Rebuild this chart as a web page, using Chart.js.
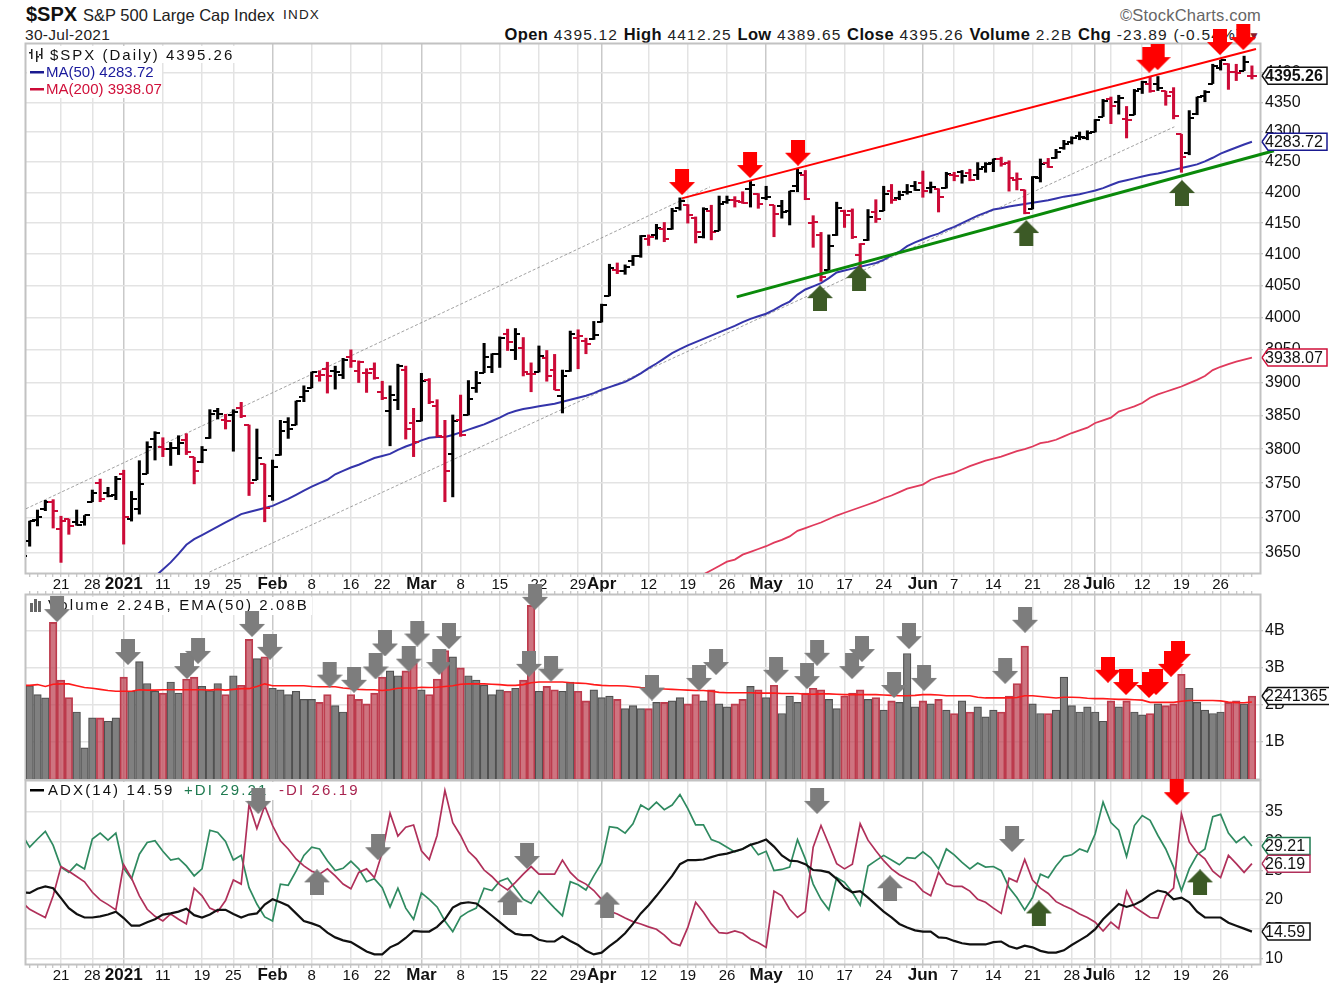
<!DOCTYPE html>
<html>
<head>
<meta charset="utf-8">
<title>$SPX</title>
<script src="https://cdn.jsdelivr.net/npm/chart.js@4"></script>
<style>
  html, body { margin: 0; padding: 0; background: #fff; }
  body { position: relative; width: 1329px; height: 990px; overflow: hidden; font-family: "Liberation Sans", Arial, sans-serif; color: #111; }
  canvas { position: absolute; left: 0; top: 0; }
  .head { position: absolute; white-space: nowrap; line-height: 20px; }
  .stats { right: 68px; top: 24px; font-size: 15.5px; letter-spacing: 1.2px; color: #222; }
  .stats b { font-size: 16.5px; letter-spacing: .4px; color: #111; }
</style>
</head>
<body>
<div class="head" style="left:26px;top:4px;font-size:20px;font-weight:bold">$SPX</div>
<div class="head" style="left:83px;top:5px;font-size:16.5px;color:#222">S&amp;P 500 Large Cap Index</div>
<div class="head" style="left:283px;top:5px;font-size:13.5px;letter-spacing:1.2px;color:#222">INDX</div>
<div class="head" style="left:25px;top:25px;font-size:15.5px;letter-spacing:.3px;color:#222">30-Jul-2021</div>
<div class="head stats"><b>Open</b> 4395.12 <b>High</b> 4412.25 <b>Low</b> 4389.65 <b>Close</b> 4395.26 <b>Volume</b> 2.2B <b>Chg</b> -23.89 (-0.54%) <span style="color:#8b1a2b;font-size:12px">&#9660;</span></div>
<div class="head" style="right:68px;top:5px;font-size:16.5px;letter-spacing:.2px;color:#666">&copy;StockCharts.com</div>
<canvas id="priceChart" width="1329" height="990" style="z-index:1"></canvas>
<canvas id="volumeChart" width="1329" height="990" style="z-index:2"></canvas>
<canvas id="adxChart" width="1329" height="990" style="z-index:3"></canvas>
<script>
// bars run Dec 14 2020 (0) to Jul 30 2021 (157)
const opens = [
  3675,3666,3696,3713,3722, 3684,3698,3693,3694, 3723,3750,3736,3733,
  3764,3698,3712,3764,3815, 3803,3801,3802,3814,3788, 3781,3816,3857,3844, 3851,3862,3836,3755,3778,
  3731,3791,3840,3836,3878, 3892,3910,3920,3917,3911, 3939,3918,3915,3921, 3885,3857,3873,3919,3839,
  3842,3904,3864,3818,3793, 3844,3851,3891,3915,3924, 3943,3974,3949,3953,3913, 3916,3938,3919,3879,3917, 3969,3963,3967,
  3993, 4034,4075,4074,4089,4097, 4125,4130,4141,4140,4174, 4179,4159,4128,4170,4138, 4185,4188,4185,4206,4198,
  4191,4179,4177,4169,4210, 4228,4150,4130,4075,4130, 4170,4170,4098,4122,4168, 4170,4202,4191,4201,4210,
  4216,4207,4206,4207, 4229,4233,4232,4229,4242, 4249,4255,4248,4220,4204, 4173,4224,4249,4256,4274, 4284,4293,4290,
  4300,4326, 4356,4351,4321,4329, 4372,4382,4381,4369,4367, 4296,4265,4331,4361,4382, 4409,4416,4402,4404,4395.12
];
const highs = [
  3697.6,3695,3711,3725,3726, 3702,3698,3711,3703, 3740,3756,3744,3760,
  3769,3738,3783,3811,3826, 3817,3810,3820,3823,3788, 3804,3859,3861,3852, 3859,3870,3836,3830,3778,
  3784,3843,3847,3872,3895, 3916,3918,3931,3925,3937, 3950,3933,3921,3930, 3902,3895,3928,3925,3861,
  3914,3906,3874,3843,3851, 3881,3903,3917,3960,3944, 3970,3982,3983,3969,3930, 3956,3949,3943,3919,3979, 3981,3968,3994,
  4021, 4084,4086,4083,4098,4130, 4131,4148,4151,4174,4191, 4180,4160,4175,4179,4194, 4194,4193,4201,4218,4198,
  4210,4179,4187,4202,4238, 4236,4162,4135,4131,4184, 4171,4173,4117,4172,4188, 4210,4213,4202,4213,4218,
  4235,4217,4206,4233, 4233,4236,4238,4249,4249, 4255,4258,4252,4232,4204, 4226,4255,4256,4271,4286, 4292,4300,4302,
  4321,4355, 4359,4362,4343,4372, 4386,4393,4394,4369,4375, 4296,4336,4359,4370,4415, 4422,4416,4415,4429,4412.25
];
const lows = [
  3645.8,3659,3688,3710,3685, 3636,3676,3689,3689, 3723,3723,3730,3726,
  3662,3695,3705,3764,3784, 3789,3776,3792,3792,3749, 3780,3816,3845,3830, 3797,3847,3732,3755,3694,
  3725,3791,3816,3836,3871, 3892,3902,3884,3890,3906, 3923,3900,3885,3905, 3874,3805,3859,3815,3789,
  3842,3868,3818,3723,3730, 3819,3851,3885,3915,3915, 3923,3949,3935,3910,3886, 3916,3902,3889,3854,3917, 3921,3944,3966,
  3993, 4034,4069,4068,4082,4095, 4114,4124,4120,4140,4171, 4150,4118,4126,4123,4138, 4182,4176,4182,4176,4174,
  4188,4128,4158,4147,4201, 4188,4111,4057,4075,4130, 4143,4125,4061,4122,4151, 4170,4182,4188,4197,4203,
  4192,4199,4168,4207, 4219,4215,4219,4221,4233, 4234,4243,4202,4204,4165, 4173,4217,4241,4256,4271, 4280,4287,4287,
  4300,4326, 4314,4330,4290,4329, 4365,4367,4370,4345,4322, 4233,4262,4329,4351,4382, 4405,4372,4387,4404,4389.65
];
const closes = [
  3645,3694.6,3701.2,3722.5,3709.4, 3694.9,3687.3,3690,3703.1, 3735.4,3727,3732,3756.1,
  3700.7,3726.9,3748.1,3803.8,3824.7, 3799.6,3801.2,3809.8,3795.5,3768.3, 3798.9,3851.9,3853.1,3841.5, 3855.4,3849.6,3750.8,3787.4,3714.2,
  3773.9,3826.3,3830.2,3871.7,3886.8, 3915.6,3911.2,3909.9,3916.4,3934.8, 3932.6,3931.3,3914,3906.7, 3876.5,3881.4,3925.4,3829.3,3811.2,
  3901.8,3870.3,3819.7,3768.5,3841.9, 3821.4,3875.4,3898.8,3939.3,3943.3, 3968.9,3962.7,3974.1,3915.5,3913.1, 3940.6,3910.5,3889.1,3909.5,3974.5, 3971.1,3958.6,3972.9,
  4019.9, 4077.9,4073.9,4080,4097.2,4128.8, 4128,4141.6,4124.7,4170.4,4185.5, 4163.3,4134.9,4173.4,4135,4180.2, 4187.6,4186.7,4183.2,4211.5,4181.2,
  4192.7,4164.7,4167.6,4201.6,4232.6, 4188.4,4152.1,4063,4112.5,4173.9, 4163.3,4127.8,4115.7,4159.1,4155.9, 4197.1,4188.1,4196,4200.9,4204.1,
  4202,4208.1,4192.9,4229.9, 4226.5,4227.3,4219.6,4239.2,4247.4, 4255.2,4246.6,4223.7,4221.9,4166.5, 4224.8,4246.4,4241.8,4266.5,4280.7, 4290.6,4291.8,4297.5,
  4319.9,4352.3, 4343.5,4358.1,4320.8,4369.6, 4384.6,4369.2,4374.3,4360,4327.2, 4258.5,4323.1,4358.7,4367.5,4411.8, 4422.3,4401.5,4400.6,4419.2,4395.26
];
const ma50Start = 17;
const ma50 = [
  3616,3626,3636,3648,3661,3669,3675,3681,3687,3693,3699,3705,3708,3711,3714,3717,3722,3727,3733,3739,3745,3750,3755,3763,3768,3773,3777,3782,3787,3790,
  3793,3799,3804,3808,3813,3817,3818,3818,3821,3825,3829,3833,3837,3842,3847,3853,3857,3860,3862,3864,3866,3868,3871,3874,3877,3880,3884,3889,3893,3897,
  3901,3907,3914,3922,3929,3937,3945,3951,3957,3962,3967,3972,3977,3982,3987,3993,3998,4002,4006,4012,4019,4025,4036,4044,4049,4054,4062,4071,4074,4077,
  4080,4083,4086,4091,4098,4104,4113,4119,4124,4129,4133,4139,4144,4150,4156,4162,4167,4172,4174,4177,4179,4181,4183,4185,4187,4190,4193,4195,4197,4200,
  4203,4207,4212,4217,4220,4223,4226,4229,4231,4234,4237,4240,4243,4246,4251,4257,4264,4269,4274,4279,4283.72
];
const ma200Start = 87;
const ma200 = [
  3619,3625,3631,3637,3640,3647,3651,3655,3659,3664,3668,3673,3681,3685,3689,3693,3698,3703,3707,3711,3715,3719,3723,3728,3732,3737,3742,3745,3748,3755,
  3759,3762,3765,3770,3775,3779,3783,3786,3789,3793,3797,3800,3804,3809,3811,3814,3819,3824,3828,3832,3839,3843,3847,3856,3860,3864,3869,3877,3882,3886,
  3890,3894,3899,3904,3910,3919,3924,3928,3932,3935,3938.07
];
const volumes = [
  2.4,2.52,2.28,2.19,4.23, 2.67,2.2,1.81,0.84, 1.65,1.65,1.56,1.65,
  2.75,2.37,3.17,2.58,2.37, 2.32,2.62,2.32,2.7,2.75, 2.5,2.39,2.58,2.28, 2.79,2.53,3.77,3.25,3.3,
  2.45,2.41,2.28,2.37,2.15, 2.15,2.07,2.28,1.98,1.81, 2.28,2.15,2.03,2.32, 2.75,2.92,2.79,2.92,3.13,
  2.41,2.28,2.7,3.47,3.3, 3.0,2.79,2.67,2.53,2.28, 2.41,2.37,2.45,2.67,4.69, 2.37,2.5,2.41,2.37,2.62, 2.37,2.11,2.41,
  2.2, 2.24,2.15,1.9,1.98,1.9, 1.9,2.07,2.07,2.11,2.2, 2.03,2.28,2.11,2.41,2.03, 1.95,2.03,2.15,2.5,2.41,
  2.2,2.53,1.77,2.24,2.07, 2.32,2.45,2.41,2.15,1.9, 2.24,2.32,2.41,2.15,2.2, 1.86,2.11,2.07,3.39,1.95,
  2.11,2.03,2.15,1.86, 1.77,2.11,1.81,1.95,1.68, 1.86,1.81,2.24,2.58,3.59, 2.03,1.77,1.77,1.86,2.75, 1.98,1.81,1.95,
  1.81,1.56, 2.11,1.95,2.11,1.81, 1.73,1.77,2.03,1.98,2.03, 2.83,2.45,2.07,1.86,1.77, 1.81,2.07,2.11,2.03,2.24
];
const volumeEma = [
  2.53,2.53,2.55,2.50,2.56,2.57,2.57,2.52,2.47,2.45,2.42,2.39,2.37,2.37,2.37,2.41,2.40,2.40,2.41,2.41,
  2.41,2.41,2.41,2.41,2.40,2.42,2.40,2.42,2.44,2.44,2.50,2.57,2.52,2.52,2.52,2.52,2.52,2.50,2.49,2.49,
  2.49,2.46,2.44,2.42,2.41,2.41,2.39,2.41,2.45,2.46,2.46,2.48,2.47,2.48,2.50,2.52,2.56,2.57,2.57,2.57,
  2.56,2.55,2.53,2.53,2.55,2.60,2.62,2.62,2.62,2.62,2.60,2.59,2.58,2.55,2.53,2.52,2.52,2.51,2.49,2.47,
  2.46,2.44,2.43,2.42,2.41,2.40,2.39,2.39,2.37,2.34,2.33,2.33,2.33,2.33,2.32,2.32,2.32,2.31,2.31,2.31,
  2.29,2.29,2.30,2.30,2.29,2.28,2.28,2.28,2.28,2.28,2.27,2.26,2.25,2.25,2.26,2.28,2.28,2.27,2.25,2.25,
  2.25,2.25,2.21,2.19,2.19,2.19,2.19,2.20,2.25,2.25,2.23,2.21,2.19,2.21,2.21,2.20,2.18,2.17,2.17,2.16,
  2.15,2.15,2.14,2.13,2.07,2.07,2.07,2.07,2.10,2.12,2.12,2.12,2.12,2.11,2.08,2.06,2.06,2.08
];
const adx = [
  21.3,21.2,21.9,22.3,22.0,20.3,18.6,17.6,17.0,17.0,17.2,17.5,18.0,16.9,15.6,15.6,16.2,16.7,17.5,17.7,
  18.0,18.5,17.4,17.0,17.5,18.3,18.3,17.6,17.0,17.5,17.7,19.2,20.1,19.6,19.0,17.7,16.4,16.0,15.5,14.4,
  13.6,13.1,12.8,12.0,11.2,10.7,10.7,11.9,12.5,13.5,14.7,14.6,14.6,15.4,16.7,18.7,19.4,19.6,19.4,18.4,
  17.3,16.2,15.1,14.2,14.0,14.0,13.2,12.9,12.9,13.8,13.0,12.3,11.3,10.7,11.0,12.1,13.1,14.3,15.9,17.7,
  19.1,20.7,22.4,24.1,26.1,26.8,26.8,26.9,27.3,27.7,27.9,28.3,28.7,29.4,29.8,30.3,29.1,27.6,26.7,26.6,
  26.1,25.1,25.0,24.7,23.6,22.1,21.3,21.5,20.4,19.2,18.0,17.0,15.9,15.3,14.8,14.6,14.6,13.6,13.5,13.0,
  12.6,12.4,12.4,12.4,12.8,12.9,12.1,11.7,12.2,11.9,11.3,11.0,11.0,11.4,12.3,13.1,13.9,15.0,16.7,18.0,
  19.3,18.8,19.2,19.9,20.9,21.6,21.3,20.1,20.4,19.6,18.0,17.0,17.0,17.0,16.1,15.6,15.1,14.59
];
const plusDi = [
  31.2,29.0,30.4,31.7,29.3,25.6,24.7,26.1,25.3,30.4,31.4,30.2,31.4,25.4,23.6,27.8,29.8,30.1,28.3,26.8,
  27.1,25.8,24.1,25.3,31.9,31.5,30.0,26.8,27.6,22.1,19.3,17.1,16.4,22.7,22.5,24.9,27.6,29.0,28.7,26.7,
  25.0,25.4,26.6,25.3,23.1,23.6,22.1,18.8,22.0,18.6,16.7,21.2,20.1,18.8,16.4,14.6,17.1,18.0,18.6,22.0,
  21.6,23.2,23.7,21.9,20.1,19.4,21.5,20.0,18.6,17.3,23.1,22.6,21.7,24.1,26.3,32.5,32.3,31.4,33.0,36.2,
  35.4,36.7,35.4,36.2,38.0,35.6,32.8,32.8,30.3,29.8,29.0,28.2,28.7,29.5,27.7,28.3,25.0,25.2,25.6,30.3,
  27.0,22.7,20.1,18.3,23.8,23.0,21.3,19.1,25.8,26.7,27.6,26.8,26.0,27.2,27.1,28.2,27.2,25.3,28.7,27.7,
  26.4,25.3,26.3,25.6,25.7,25.0,22.1,20.4,18.3,20.4,24.4,23.8,25.8,27.4,27.7,28.7,28.2,31.3,36.7,33.2,
  31.9,27.4,32.7,34.4,33.6,31.0,28.7,25.6,21.6,25.3,27.7,28.7,34.2,34.6,31.4,29.8,30.8,29.21
];
const minusDi = [
  19.6,18.4,17.7,17.0,20.7,25.7,24.9,24.0,23.1,21.3,20.0,19.2,18.3,26.0,23.7,20.7,18.4,17.2,16.4,17.6,
  16.7,15.9,22.0,20.7,18.6,18.0,19.9,23.4,22.7,36.3,32.2,36.1,32.7,30.1,28.7,27.0,25.8,24.9,24.4,25.3,
  24.1,22.7,21.9,24.7,25.3,23.8,28.1,34.8,30.9,32.4,32.8,28.4,26.9,31.0,38.7,33.2,31.0,28.3,27.0,25.1,
  24.0,22.6,21.7,23.0,24.4,25.7,24.4,24.4,24.4,26.8,24.7,23.4,22.7,21.6,20.1,18.1,17.6,16.9,16.3,15.9,
  15.4,15.0,14.0,12.7,12.2,15.3,19.6,17.9,15.9,14.4,14.3,14.7,14.3,13.3,12.7,11.9,21.5,20.7,18.4,17.0,
  18.0,29.0,32.7,29.5,26.2,25.3,26.1,33.0,30.2,28.4,26.7,25.3,24.3,23.6,23.0,21.5,20.7,24.7,22.8,22.3,
  22.3,21.5,20.1,19.6,18.6,17.7,23.7,23.1,26.9,23.4,22.0,21.1,19.7,19.0,18.4,17.6,17.0,16.2,14.7,16.2,
  15.1,21.5,18.8,17.9,17.0,16.9,20.7,22.0,34.7,29.9,28.1,27.0,24.9,23.8,27.6,26.2,24.7,26.19
];

// hand drawn lines, bar position then price
const redLineX = [84.22, 157.52];
const redLineY = [4190.2, 4441.3];
const greenLineX = [91.24, 159.81];
const greenLineY = [4032.4, 4268.6];
const channelTopX = [0.53, 87.83];
const channelTopY = [3712.8, 4209];
const channelLowX = [23.96, 147.1];
const channelLowY = [3622.4, 4308.7];

// arrows, bar position then value at the arrow's middle
const priceRedX = [84.26, 92.94, 99.06, 143.9, 144.97, 152.92, 155.9];
const priceRedY = [4217, 4245, 4265.4, 4422.8, 4427.4, 4453.4, 4462.1];
const priceGreenX = [101.87, 106.85, 128.2, 148.07];
const priceGreenY = [4030.4, 4062, 4134, 4198.9];
const volGreyX = [4.49,13.55,21.08,22.49,29.38,31.67,39.29,42.4,45.16,46.35,49.38,50.47,53.28,54.52,65.5,64.73,67.54,80.43,86.43,88.6,96.26,100.22,101.5,105.96,107.23,111.32,113.23,115.15,125.5,128.04];
const volGreyY = [4.59,3.43,3.05,3.46,4.19,3.57,2.82,2.68,3.04,3.66,3.25,3.93,3.16,3.86,4.92,3.11,2.98,2.47,2.73,3.16,2.95,2.78,3.41,3.05,3.51,2.54,3.86,2.73,2.92,4.30];
const volRedX = [138.63,140.93,143.86,144.76,146.67,147.56];
const volRedY = [2.95,2.62,2.54,2.62,3.11,3.38];
const adxGreyDownX = [30.18,45.46,64.48,101.5,126.38];
const adxGreyDownY = [36.9,29.0,27.5,36.9,30.4];
const adxGreyUpX = [37.67,62.3,74.7,110.8];
const adxGreyUpY = [23.0,19.6,19.2,22.0];
const adxGreenX = [129.8,150.38];
const adxGreenY = [17.7,23.0];
const adxRedX = [147.4];
const adxRedY = [38.4];

const xTickValues = [5,9,13,18,23,27,32,37,42,46,51,56,61,66,71,74,80,85,90,95,100,105,110,115,119,124,129,134,137,139,143,148,153];
const xTickLabels = ["21","28","2021","11","19","25","Feb","8","16","22","Mar","8","15","22","29","Apr","12","19","26","May","10","17","24","Jun","7","14","21","28","Jul","6","12","19","26"];
const monthTicks = [13,32,51,74,95,115,137];
const priceTicks = [3650,3700,3750,3800,3850,3900,3950,4000,4050,4100,4150,4200,4250,4300,4350,4400];
const volumeTicks = [1,2,3,4];
const adxTicks = [10,15,20,25,30,35];

const UP = "#000000", DOWN = "#cc0a37";
const isDown = k => k > 0 && closes[k] < closes[k - 1];
const zip = (xs, ys) => xs.map((x, k) => ({ x: x, y: ys[k] }));
const series = (vals, start) => vals.map((v, k) => ({ x: start + k, y: v }));

function arrowImage(color, up) {
  const c = document.createElement("canvas");
  c.width = 26; c.height = 26;
  const g = c.getContext("2d");
  if (up) { g.translate(0, 26); g.scale(1, -1); }
  g.fillStyle = color;
  g.beginPath();
  g.moveTo(6, 0); g.lineTo(20, 0); g.lineTo(20, 13); g.lineTo(26, 13);
  g.lineTo(13, 26); g.lineTo(0, 13); g.lineTo(6, 13);
  g.closePath();
  g.fill();
  return c;
}

// open is the left tick of a bar, close the right one
function tickImage(color, left) {
  const c = document.createElement("canvas");
  c.width = 10; c.height = 2;
  const g = c.getContext("2d");
  g.fillStyle = color;
  g.fillRect(left ? 0 : 5, 0, 5, 2);
  return c;
}

const openUp = tickImage(UP, true), openDown = tickImage(DOWN, true);
const closeUp = tickImage(UP, false), closeDown = tickImage(DOWN, false);

function arrowSet(points, image) {
  return { type: "line", showLine: false, data: points, pointStyle: image, pointRadius: 34, clip: false };
}
function lineSet(points, color, width, extra) {
  return Object.assign({ type: "line", data: points, borderColor: color, borderWidth: width, pointRadius: 0, tension: 0 }, extra || {});
}

function panelPlugin(legend, tags) {
  return {
    id: "panel",
    beforeDatasetsDraw(chart) {
      const a = chart.chartArea, ctx = chart.ctx;
      ctx.save();
      ctx.strokeStyle = "#c2c2c2";
      ctx.lineWidth = 2;
      ctx.strokeRect(a.left - 0.5, a.top - 0.5, a.right - a.left + 1, a.bottom - a.top + 1);
      legend(ctx);
      ctx.restore();
    },
    afterDraw(chart) {
      const ctx = chart.ctx, scale = chart.scales.y;
      ctx.save();
      tags.forEach(t => {
        const y = scale.getPixelForValue(t.value), r = t.right;
        ctx.beginPath();
        ctx.moveTo(1262, y);
        ctx.lineTo(1268, y - 8.5);
        ctx.lineTo(r, y - 8.5);
        if (r < 1329) { ctx.lineTo(r, y + 8.5); } else { ctx.moveTo(r, y + 8.5); }
        ctx.lineTo(1268, y + 8.5);
        ctx.lineTo(1262, y);
        ctx.fillStyle = "#fff";
        ctx.fill();
        ctx.strokeStyle = t.color;
        ctx.lineWidth = 1.5;
        ctx.stroke();
        ctx.fillStyle = "#111";
        ctx.font = (t.bold ? "bold " : "") + "16px 'Liberation Sans'";
        ctx.textAlign = "left";
        ctx.textBaseline = "middle";
        ctx.fillText(t.text, 1265, y + 1);
      });
      ctx.restore();
    }
  };
}

function legendText(ctx, text, x, y, color, spacing) {
  ctx.font = "15px 'Liberation Sans'";
  ctx.letterSpacing = (spacing || 0) + "px";
  ctx.textAlign = "left";
  ctx.textBaseline = "middle";
  ctx.fillStyle = color;
  ctx.fillText(text, x, y);
  ctx.letterSpacing = "0px";
}

function priceLegend(ctx) {
  ctx.fillStyle = "#fff";
  ctx.fillRect(27, 46, 208, 17);
  ctx.fillRect(27, 63, 135, 35);
  ctx.fillStyle = "#222";
  ctx.fillRect(31, 49, 1.5, 10);
  ctx.fillRect(29, 52, 2, 1.5);
  ctx.fillRect(36, 51, 1.5, 11);
  ctx.fillRect(37, 56, 2, 1.5);
  ctx.fillRect(41, 48, 1.5, 11);
  ctx.fillRect(39, 54, 2, 1.5);
  legendText(ctx, "$SPX (Daily) 4395.26", 50, 56, "#111", 2);
  ctx.fillStyle = "#1a1a90";
  ctx.fillRect(30, 71, 14, 2.5);
  legendText(ctx, "MA(50) 4283.72", 46, 73, "#1a1a9c");
  ctx.fillStyle = DOWN;
  ctx.fillRect(30, 88, 14, 2.5);
  legendText(ctx, "MA(200) 3938.07", 46, 90, "#d0103a");
}
function volumeLegend(ctx) {
  ctx.fillStyle = "#fff";
  ctx.fillRect(27, 597, 285, 18);
  ctx.fillStyle = "#666";
  ctx.fillRect(30, 603, 3, 9);
  ctx.fillRect(34, 599, 3, 13);
  ctx.fillRect(38, 601, 3, 11);
  legendText(ctx, "Volume 2.24B, EMA(50) 2.08B", 48, 606, "#111", 2.1);
}
function adxLegend(ctx) {
  ctx.fillStyle = "#fff";
  ctx.fillRect(27, 782, 338, 18);
  ctx.fillStyle = "#000";
  ctx.fillRect(30, 789, 14, 2.5);
  legendText(ctx, "ADX(14) 14.59", 48, 791, "#111", 2.1);
  legendText(ctx, "+DI 29.21", 184, 791, "#1f7a50", 2.1);
  legendText(ctx, "-DI 26.19", 279, 791, "#a8234f", 2.1);
}

function xAxis(top, height, showLabels) {
  return {
    type: "linear",
    position: top ? "top" : "bottom",
    min: 0.533,
    max: 158.03,
    offset: false,
    afterBuildTicks(scale) {
      const t = [];
      for (let k = 1; k <= 157; k++) t.push({ value: k });
      scale.ticks = t;
    },
    afterFit(scale) { scale.height = height; },
    border: { display: false },
    grid: {
      offset: false,
      lineWidth: 1.5,
      tickLength: 4,
      tickWidth: 1,
      tickColor: "#b5b5b5",
      color: c => monthTicks.includes(c.tick.value) ? "#c9c9c9" : xTickValues.includes(c.tick.value) ? "#e3e3e3" : "rgba(0,0,0,0)"
    },
    ticks: {
      display: showLabels,
      autoSkip: false,
      maxRotation: 0,
      minRotation: 0,
      padding: -1,
      color: "#111",
      font: c => monthTicks.includes(c.tick && c.tick.value)
        ? { family: "Liberation Sans", size: 17, weight: "bold", lineHeight: "17px" }
        : { family: "Liberation Sans", size: 15, lineHeight: "17px" },
      callback: v => { const k = xTickValues.indexOf(v); return k < 0 ? "" : xTickLabels[k]; }
    }
  };
}

function yAxis(type, min, max, ticks, label) {
  return {
    type: type,
    position: "right",
    min: min,
    max: max,
    afterBuildTicks(scale) { scale.ticks = ticks.map(v => ({ value: v })); },
    afterFit(scale) { scale.width = 69; },
    border: { display: false },
    grid: { lineWidth: 1.5, color: "#e3e3e3", tickLength: 3, tickColor: "#b5b5b5", tickWidth: 1 },
    ticks: {
      autoSkip: false,
      padding: 2,
      color: "#111",
      font: { family: "Liberation Sans", size: 16 },
      callback: label
    }
  };
}

function makeChart(id, datasets, padding, x, y, plugin) {
  return new Chart(document.getElementById(id), {
    type: "bar",
    data: { datasets: datasets },
    options: {
      responsive: false,
      animation: false,
      events: [],
      layout: { padding: padding, autoPadding: false },
      plugins: { legend: { display: false }, tooltip: { enabled: false } },
      scales: { x: x, y: y }
    },
    plugins: [plugin]
  });
}

makeChart("priceChart", [
  arrowSet(zip(priceRedX, priceRedY), arrowImage("#ff0000", false)),
  arrowSet(zip(priceGreenX, priceGreenY), arrowImage("#3c5a26", true)),
  lineSet(zip(redLineX, redLineY), "#ff0000", 2, { clip: false }),
  lineSet(zip(greenLineX, greenLineY), "#0a8a0a", 3, { clip: false }),
  { type: "line", showLine: false, data: series(opens, 0), pointRadius: 6, pointStyle: c => isDown(c.dataIndex) ? openDown : openUp },
  { type: "line", showLine: false, data: series(closes, 0), pointRadius: 6, pointStyle: c => isDown(c.dataIndex) ? closeDown : closeUp },
  {
    type: "bar",
    data: highs.map((h, k) => ({ x: k, y: [lows[k], h] })),
    barThickness: 2.4,
    backgroundColor: c => isDown(c.dataIndex) ? DOWN : UP
  },
  lineSet(series(ma50, ma50Start), "#3434aa", 2),
  lineSet(series(ma200, ma200Start), "#e03a5c", 1.8),
  lineSet(zip(channelTopX, channelTopY), "#8a8a8a", 0.8, { borderDash: [3, 2], clip: false }),
  lineSet(zip(channelLowX, channelLowY), "#8a8a8a", 0.8, { borderDash: [3, 2], clip: false })
], { top: 44, left: 26, right: 0, bottom: 0 },
  xAxis(false, 417, true),
  yAxis("logarithmic", 3621, 4450, priceTicks, v => String(v)),
  panelPlugin(priceLegend, [
    { value: 4395.26, text: "4395.26", color: "#111", bold: true, right: 1327 },
    { value: 4283.72, text: "4283.72", color: "#1a1a90", right: 1327 },
    { value: 3938.07, text: "3938.07", color: "#d0103a", right: 1327 }
  ]));

makeChart("volumeChart", [
  arrowSet(zip(volRedX, volRedY), arrowImage("#ff0000", false)),
  arrowSet(zip(volGreyX, volGreyY), arrowImage("#7d7d7d", false)),
  lineSet(series(volumeEma, 0), "#ff1a1a", 1.6),
  {
    type: "bar",
    data: series(volumes, 0),
    barThickness: 7.6,
    borderWidth: 1.2,
    backgroundColor: c => isDown(c.dataIndex) ? "rgba(190,70,85,0.75)" : "#808080",
    borderColor: c => isDown(c.dataIndex) ? "#bd3a4c" : "#505050"
  }
], { top: 0, left: 26, right: 0, bottom: 211 },
  xAxis(true, 595, false),
  yAxis("linear", 0, 4.97, volumeTicks, v => v + "B"),
  panelPlugin(volumeLegend, [
    { value: 2.241365, text: "2241365", color: "#111", right: 1330 }
  ]));

makeChart("adxChart", [
  arrowSet(zip(adxRedX, adxRedY), arrowImage("#ff0000", false)),
  arrowSet(zip(adxGreyDownX, adxGreyDownY), arrowImage("#7d7d7d", false)),
  arrowSet(zip(adxGreyUpX, adxGreyUpY), arrowImage("#7d7d7d", true)),
  arrowSet(zip(adxGreenX, adxGreenY), arrowImage("#3c5a26", true)),
  lineSet(series(adx, 0), "#111", 2.2),
  lineSet(series(minusDi, 0), "#b0305a", 1.7),
  lineSet(series(plusDi, 0), "#2f8a60", 1.7)
], { top: 781, left: 26, right: 0, bottom: 0 },
  xAxis(false, 26, true),
  yAxis("linear", 9.06, 40.3, adxTicks, v => String(v)),
  panelPlugin(adxLegend, [
    { value: 29.21, text: "29.21", color: "#1f7a50", right: 1310 },
    { value: 26.19, text: "26.19", color: "#b0305a", right: 1310 },
    { value: 14.59, text: "14.59", color: "#111", right: 1310 }
  ]));
</script>
</body>
</html>
